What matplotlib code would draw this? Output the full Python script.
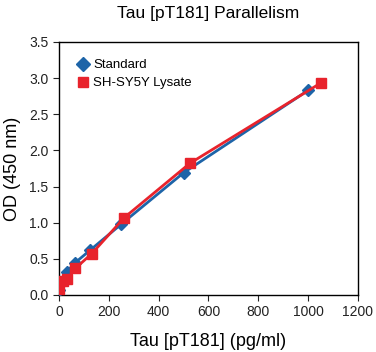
import matplotlib
matplotlib.use("Agg")
import matplotlib.pyplot as plt
from matplotlib.lines import Line2D

plt.rcParams['font.family'] = ['Liberation Sans', 'DejaVu Sans']

std_x = [0, 15.6, 31.25, 62.5, 125, 250, 500, 1000]
std_y = [0.07, 0.20, 0.32, 0.44, 0.62, 0.98, 1.69, 2.83]
lys_x = [0, 16, 33, 66, 131, 262, 525, 1050]
lys_y = [0.08, 0.20, 0.22, 0.37, 0.57, 1.07, 1.82, 2.93]

xticks = [0, 200, 400, 600, 800, 1000, 1200]
yticks = [0.0, 0.5, 1.0, 1.5, 2.0, 2.5, 3.0, 3.5]

blue = '#1d64a8'
red = '#e8232c'

fig = plt.figure(figsize=(3.76, 3.52), dpi=100)
ax = fig.add_axes([0.157, 0.162, 0.795, 0.719])

ax.plot(std_x, std_y, color=blue, lw=2, marker='D', ms=6.5, label='Standard', zorder=3)
ax.plot(lys_x, lys_y, color=red, lw=2, marker='s', ms=7.5, label='SH-SY5Y Lysate', zorder=4)

ax.set_xlim(0, 1200)
ax.set_ylim(0, 3.5)
ax.set_xticks(xticks)
ax.set_yticks(yticks)
ax.set_yticklabels([f'{v:.1f}' for v in yticks])
ax.tick_params(direction='out', length=4, labelsize=10, colors='#222222')
for s in ax.spines.values():
    s.set_linewidth(1)

ax.set_xlabel('Tau [pT181] (pg/ml)', fontsize=13, labelpad=10)
ax.set_ylabel('OD (450 nm)', fontsize=13, labelpad=6)
ax.set_title('Tau [pT181] Parallelism', fontsize=12.5, pad=17)

handles = [Line2D([], [], ls='none', marker='D', ms=7, color=blue),
           Line2D([], [], ls='none', marker='s', ms=7.5, color=red)]
ax.legend(handles, ['Standard', 'SH-SY5Y Lysate'], loc='upper left', frameon=False,
          fontsize=9.5, handlelength=1.0, handletextpad=0.3,
          borderaxespad=0.9, labelspacing=0.45, bbox_to_anchor=(0.0, 1.0))

fig.savefig('out.png', dpi=100)
